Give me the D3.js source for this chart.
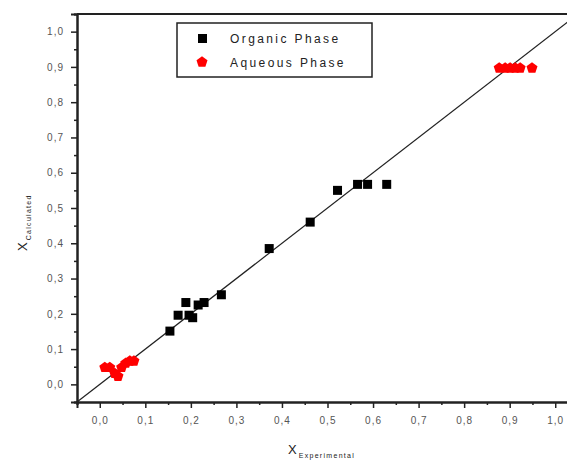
<!DOCTYPE html>
<html>
<head>
<meta charset="utf-8">
<script src="https://cdn.jsdelivr.net/npm/d3@7"></script>
<style>
  body { margin: 0; background: #fff; }
  svg { display: block; font-family: "Liberation Sans", Arial, sans-serif; }
</style>
</head>
<body>
<div id="chart"></div>
<script>
// Dados
const organicX = [0.154, 0.172, 0.189, 0.196, 0.204, 0.216, 0.229, 0.267, 0.372, 0.462, 0.522, 0.566, 0.588, 0.630];
const organicY = [0.151, 0.196, 0.232, 0.196, 0.189, 0.225, 0.232, 0.254, 0.385, 0.460, 0.550, 0.567, 0.567, 0.567];
const aqueousX = [0.011, 0.022, 0.033, 0.040, 0.048, 0.057, 0.066, 0.075, 0.877, 0.890, 0.901, 0.912, 0.923, 0.949];
const aqueousY = [0.048, 0.048, 0.031, 0.023, 0.048, 0.060, 0.066, 0.066, 0.897, 0.897, 0.897, 0.897, 0.897, 0.897];
const majorTicks = [0, 0.1, 0.2, 0.3, 0.4, 0.5, 0.6, 0.7, 0.8, 0.9, 1.0];
const minorTicks = [-0.05, 0.05, 0.15, 0.25, 0.35, 0.45, 0.55, 0.65, 0.75, 0.85, 0.95, 1.05];
const legendLabels = ["Organic Phase", "Aqueous Phase"];

const width = 567, height = 462;
const margin = { left: 77, top: 14, right: -11, bottom: 60 };

const svg = d3.select("#chart").append("svg")
    .attr("width", width)
    .attr("height", height);

const x = d3.scaleLinear().domain([-0.05, 1.05]).range([margin.left, width - margin.right]);
const y = d3.scaleLinear().domain([-0.05, 1.05]).range([height - margin.bottom, margin.top]);

const fmt = d => d3.format(".1f")(d).replace(".", ",");

// Eixo X
svg.append("g")
    .attr("transform", `translate(0,${y(-0.05)})`)
    .call(d3.axisBottom(x).tickValues(majorTicks).tickFormat(fmt).tickSize(6).tickPadding(9));
svg.append("g")
    .attr("transform", `translate(0,${y(-0.05)})`)
    .call(d3.axisBottom(x).tickValues(minorTicks).tickFormat("").tickSize(3));

// Eixo Y
svg.append("g")
    .attr("transform", `translate(${x(-0.05)},0)`)
    .call(d3.axisLeft(y).tickValues(majorTicks).tickFormat(fmt).tickSize(6).tickPadding(7));
svg.append("g")
    .attr("transform", `translate(${x(-0.05)},0)`)
    .call(d3.axisLeft(y).tickValues(minorTicks).tickFormat("").tickSize(3));

svg.selectAll(".domain").attr("stroke", "#222").attr("stroke-width", 2);
svg.selectAll(".tick line").attr("stroke", "#222").attr("stroke-width", 1.5);
svg.selectAll(".tick text")
    .attr("fill", "#555")
    .style("font-size", "10px")
    .style("letter-spacing", "1px");

// Borda superior
svg.append("line")
    .attr("x1", x(-0.05)).attr("x2", x(1.05))
    .attr("y1", y(1.05)).attr("y2", y(1.05))
    .attr("stroke", "#222").attr("stroke-width", 2);

// Linha y = x
svg.append("line")
    .attr("x1", x(-0.05)).attr("y1", y(-0.05))
    .attr("x2", x(1.05)).attr("y2", y(1.05))
    .attr("stroke", "#222").attr("stroke-width", 1.2);

// Marcadores
const pentagon = {
    draw(ctx, size) {
        const r = Math.sqrt(size / 2.4);
        for (let i = 0; i < 5; i++) {
            const a = -Math.PI / 2 + i * 2 * Math.PI / 5;
            if (i === 0) ctx.moveTo(r * Math.cos(a), r * Math.sin(a));
            else ctx.lineTo(r * Math.cos(a), r * Math.sin(a));
        }
        ctx.closePath();
    }
};

const organic = organicX.map((d, i) => ({ x: d, y: organicY[i] }));
const aqueous = aqueousX.map((d, i) => ({ x: d, y: aqueousY[i] }));

svg.append("g").selectAll("rect")
    .data(organic)
    .enter().append("rect")
    .attr("x", d => x(d.x) - 4.5)
    .attr("y", d => y(d.y) - 4.5)
    .attr("width", 9).attr("height", 9)
    .attr("fill", "#000");

svg.append("g").selectAll("path")
    .data(aqueous)
    .enter().append("path")
    .attr("transform", d => `translate(${x(d.x)},${y(d.y)})`)
    .attr("d", d3.symbol().type(pentagon).size(80))
    .attr("fill", "#f00");

// Legenda
const legend = svg.append("g");
legend.append("rect")
    .attr("x", 177).attr("y", 23)
    .attr("width", 195).attr("height", 54)
    .attr("fill", "#fff").attr("stroke", "#222").attr("stroke-width", 1.5);
legend.append("rect")
    .attr("x", 198).attr("y", 34).attr("width", 9).attr("height", 9)
    .attr("fill", "#000");
legend.append("path")
    .attr("transform", "translate(202,62)")
    .attr("d", d3.symbol().type(pentagon).size(80))
    .attr("fill", "#f00");
legend.selectAll("text")
    .data(legendLabels)
    .enter().append("text")
    .attr("x", 230)
    .attr("y", (d, i) => 43 + i * 24)
    .attr("fill", "#222")
    .style("font-size", "12px")
    .style("letter-spacing", "2.4px")
    .text(d => d);

// Títulos dos eixos
const xt = svg.append("text")
    .attr("x", 288).attr("y", 454)
    .attr("fill", "#222")
    .style("font-size", "13px");
xt.append("tspan").text("X");
xt.append("tspan").attr("dy", 4).attr("dx", 2)
    .style("font-size", "7px").style("letter-spacing", "1.3px").text("Experimental");

const yt = svg.append("text")
    .attr("transform", "translate(27,251) rotate(-90)")
    .attr("fill", "#222")
    .style("font-size", "13px");
yt.append("tspan").text("X");
yt.append("tspan").attr("dy", 4).attr("dx", 2)
    .style("font-size", "7px").style("letter-spacing", "1.3px").text("Calculated");
</script>
</body>
</html>
